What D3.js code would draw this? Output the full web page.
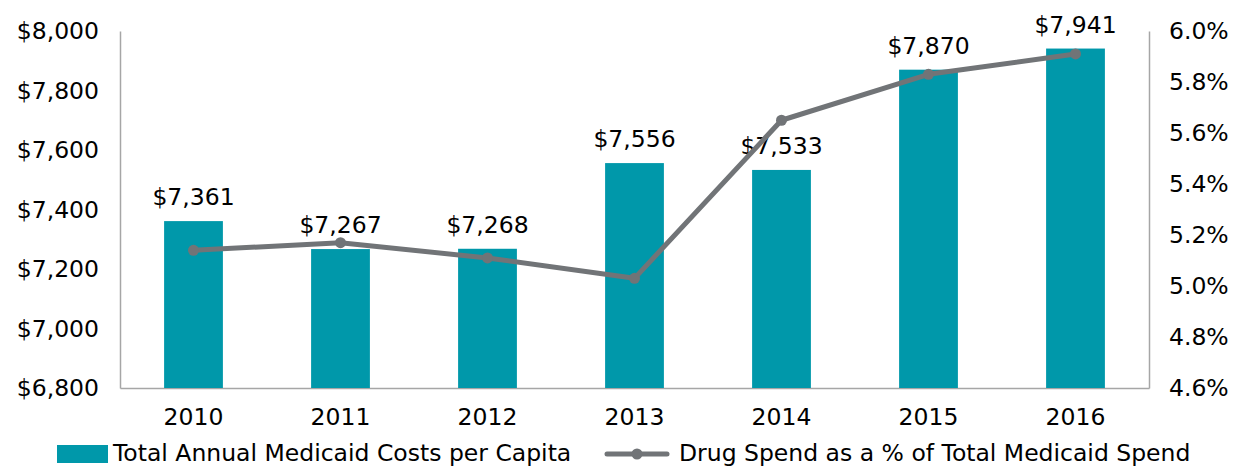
<!DOCTYPE html>
<html>
<head>
<meta charset="utf-8">
<script src="https://cdn.jsdelivr.net/npm/d3@7"></script>
<style>
  body { margin: 0; background: #fff; }
  text { font-family: "DejaVu Sans", Verdana, sans-serif; fill: #000; }
</style>
</head>
<body>
<script>
// data
const years = ["2010", "2011", "2012", "2013", "2014", "2015", "2016"];
const costPerCapita = [7361, 7267, 7268, 7556, 7533, 7870, 7941];
const drugSharePct = [5.14, 5.17, 5.11, 5.03, 5.65, 5.83, 5.91];
const leftTicks = [6800, 7000, 7200, 7400, 7600, 7800, 8000];
const rightTicks = [4.6, 4.8, 5.0, 5.2, 5.4, 5.6, 5.8, 6.0];
const seriesNames = ["Total Annual Medicaid Costs per Capita", "Drug Spend as a % of Total Medicaid Spend"];

const W = 1238, H = 467;
const margin = { top: 31, right: 89, bottom: 79, left: 120 };
const w = W - margin.left - margin.right, h = H - margin.top - margin.bottom;

const teal = "#0098aa", grey = "#717477", axisGrey = "#a6a6a6";
const fs = "23.5px";

const svg = d3.select("body").append("svg")
  .attr("width", W).attr("height", H);
const g = svg.append("g").attr("transform", `translate(${margin.left},${margin.top})`);

const x = d3.scaleBand().domain(years).range([0, w]).paddingInner(0.6).paddingOuter(0.3);
const yL = d3.scaleLinear().domain([6800, 8000]).range([h, 0]);
const yR = d3.scaleLinear().domain([4.6, 6.0]).range([h, 0]);

const fmtMoney = d => "$" + d3.format(",")(d);

// axes
const left = g.append("g").call(d3.axisLeft(yL).tickValues(leftTicks).tickFormat(fmtMoney).tickSize(0).tickPadding(21));
const right = g.append("g").attr("transform", `translate(${w},0)`)
  .call(d3.axisRight(yR).tickValues(rightTicks).tickFormat(d3.format(".1f")).tickSize(0).tickPadding(20));
right.selectAll("text").text(d => d3.format(".1f")(d) + "%");
const bottom = g.append("g").attr("transform", `translate(0,${h})`)
  .call(d3.axisBottom(x).tickSize(0).tickPadding(20));
[left, right, bottom].forEach(a => {
  a.select(".domain").attr("stroke", axisGrey).attr("stroke-width", 1.5);
  a.selectAll("text").style("font-size", fs).attr("fill", "#000");
});

// bars
g.selectAll(".bar").data(years).enter().append("rect")
  .attr("class", "bar")
  .attr("x", d => x(d))
  .attr("width", x.bandwidth())
  .attr("y", (d, i) => yL(costPerCapita[i]))
  .attr("height", (d, i) => h - yL(costPerCapita[i]))
  .attr("fill", teal);

// bar labels
g.selectAll(".lbl").data(years).enter().append("text")
  .attr("class", "lbl")
  .attr("x", d => x(d) + x.bandwidth() / 2)
  .attr("y", (d, i) => yL(costPerCapita[i]) - 16)
  .attr("text-anchor", "middle")
  .style("font-size", fs)
  .text((d, i) => fmtMoney(costPerCapita[i]));

// line
const line = d3.line()
  .x(d => x(d[0]) + x.bandwidth() / 2)
  .y(d => yR(d[1]));
const pts = years.map((d, i) => [d, drugSharePct[i]]);
g.append("path").datum(pts)
  .attr("d", line)
  .attr("fill", "none")
  .attr("stroke", grey)
  .attr("stroke-width", 5)
  .attr("stroke-linejoin", "round");
g.selectAll(".pt").data(pts).enter().append("circle")
  .attr("cx", d => x(d[0]) + x.bandwidth() / 2)
  .attr("cy", d => yR(d[1]))
  .attr("r", 5.5)
  .attr("fill", grey);

// legend
const leg = svg.append("g").attr("transform", `translate(0,454)`);
leg.append("rect").attr("x", 57).attr("y", -9).attr("width", 51).attr("height", 18).attr("fill", teal);
leg.append("text").attr("x", 113).attr("y", 7).style("font-size", fs).text(seriesNames[0]);
leg.append("line").attr("x1", 607).attr("x2", 667).attr("y1", 0).attr("y2", 0)
  .attr("stroke", grey).attr("stroke-width", 5).attr("stroke-linecap", "round");
leg.append("circle").attr("cx", 637).attr("cy", 0).attr("r", 5.5).attr("fill", grey);
leg.append("text").attr("x", 679).attr("y", 7).style("font-size", fs).text(seriesNames[1]);
</script>
</body>
</html>
